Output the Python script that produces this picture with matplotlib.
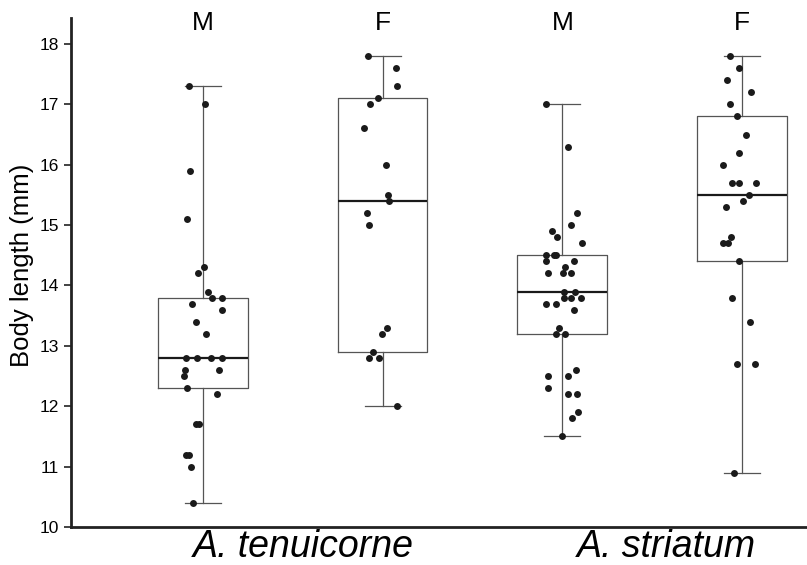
import numpy as np
import matplotlib.pyplot as plt

plt.rcParams['font.family'] = ['Liberation Sans', 'DejaVu Sans']

# group order: A. tenuicorne M, F, A. striatum M, F
sexes = ['M', 'F', 'M', 'F']
species = ['A. tenuicorne', 'A. striatum']

# box statistics (mm)
q1 = [12.3, 12.9, 13.2, 14.4]
med = [12.8, 15.4, 13.9, 15.5]
q3 = [13.8, 17.1, 14.5, 16.8]
whislo = [10.4, 12.0, 11.5, 10.9]
whishi = [17.3, 17.8, 17.0, 17.8]

# individual body lengths
ten_m = [17.3, 17.0, 15.9, 15.1, 14.3, 14.2, 13.9, 13.8, 13.8, 13.7, 13.6, 13.4,
         13.2, 12.8, 12.8, 12.8, 12.8, 12.6, 12.6, 12.5, 12.3, 12.2, 11.7, 11.7,
         11.2, 11.2, 11.0, 10.4]
ten_f = [17.8, 17.6, 17.3, 17.1, 17.0, 16.6, 16.0, 15.5, 15.4, 15.2, 15.0, 13.3,
         13.2, 12.9, 12.8, 12.8, 12.0]
str_m = [17.0, 16.3, 15.2, 15.0, 14.9, 14.8, 14.7, 14.5, 14.5, 14.5, 14.4, 14.4,
         14.3, 14.2, 14.2, 14.2, 13.9, 13.9, 13.8, 13.8, 13.8, 13.7, 13.7, 13.6,
         13.3, 13.2, 13.2, 12.6, 12.5, 12.5, 12.3, 12.2, 12.2, 11.9, 11.8, 11.5]
str_f = [17.8, 17.6, 17.4, 17.2, 17.0, 16.8, 16.5, 16.2, 16.0, 15.7, 15.7, 15.7,
         15.5, 15.4, 15.3, 14.8, 14.7, 14.7, 14.4, 13.8, 13.4, 12.7, 12.7, 10.9]

# horizontal jitter as it appears in the figure
jit_ten_m = [-0.076, 0.015, -0.072, -0.085, 0.007, -0.026, 0.03, 0.052, 0.107, -0.059,
             0.107, -0.04, 0.02, -0.096, -0.03, 0.044, 0.109, -0.1, 0.09, -0.106,
             -0.087, 0.08, -0.035, -0.02, -0.095, -0.075, -0.063, -0.057]
jit_ten_f = [-0.079, 0.073, 0.082, -0.023, -0.069, -0.103, 0.019, 0.029, 0.036, -0.088,
             -0.075, 0.023, -0.001, -0.051, -0.077, -0.021, 0.079]
jit_str_m = [-0.091, 0.03, 0.082, 0.05, -0.059, -0.03, 0.111, -0.093, -0.045, -0.035,
             -0.093, 0.063, 0.015, -0.082, 0.004, 0.046, 0.011, 0.07, 0.007, 0.048,
             0.104, -0.093, -0.037, 0.067, -0.017, -0.035, 0.015, 0.078, -0.082, 0.03,
             -0.078, 0.031, 0.081, 0.085, 0.054, -0.004]
jit_str_f = [-0.07, -0.015, -0.085, 0.052, -0.067, -0.03, 0.022, -0.018, -0.109, -0.054,
             -0.018, 0.076, 0.037, 0.007, -0.091, -0.061, -0.104, -0.08, -0.02, -0.057,
             0.044, -0.03, 0.072, -0.043]

groups = [ten_m, ten_f, str_m, str_f]
jitters = [jit_ten_m, jit_ten_f, jit_str_m, jit_str_f]
positions = np.arange(1, 5)

fig = plt.figure(figsize=(8.07, 5.65), dpi=100)
ax = fig.add_axes([71 / 807, 38 / 565, 736 / 807, 509 / 565])

stats = [dict(q1=a, med=m, q3=b, whislo=lo, whishi=hi, fliers=[])
         for a, m, b, lo, hi in zip(q1, med, q3, whislo, whishi)]
ax.bxp(stats, positions=positions, widths=0.5, showfliers=False,
       boxprops=dict(color='#555555', linewidth=0.9),
       whiskerprops=dict(color='#555555', linewidth=0.9),
       capprops=dict(color='#555555', linewidth=0.9),
       capwidths=0.2,
       medianprops=dict(color='#1a1a1a', linewidth=1.6))

# jittered individuals on top of the boxes
for pos, vals, jit in zip(positions, groups, jitters):
    ax.plot(pos + np.array(jit), vals, 'o', color='#1a1a1a', markersize=5,
            markeredgewidth=0, zorder=3)

ax.set_xlim(0.267, 4.361)
ax.set_ylim(10, 18.43)
ax.set_yticks(range(10, 19))
ax.set_xticks([])
ax.tick_params(axis='y', direction='out', length=5, width=1.2, labelsize=12.5, color='#222222')

for side in ['top', 'right']:
    ax.spines[side].set_visible(False)
for side in ['left', 'bottom']:
    ax.spines[side].set_linewidth(2)
    ax.spines[side].set_color('#222222')

ax.set_ylabel('Body length (mm)', fontsize=18.5)
ax.yaxis.set_label_coords(-0.05, 0.515)

trans = ax.get_xaxis_transform()
for pos, s in zip(positions, sexes):
    ax.text(pos, 0.99, s, transform=trans, ha='center', va='center', fontsize=19)

for x, name in zip([1.56, 3.58], species):
    ax.text(x, -0.039, name, transform=trans, ha='center', va='center',
            fontsize=27, style='italic')

fig.savefig('out.png', dpi=100)
